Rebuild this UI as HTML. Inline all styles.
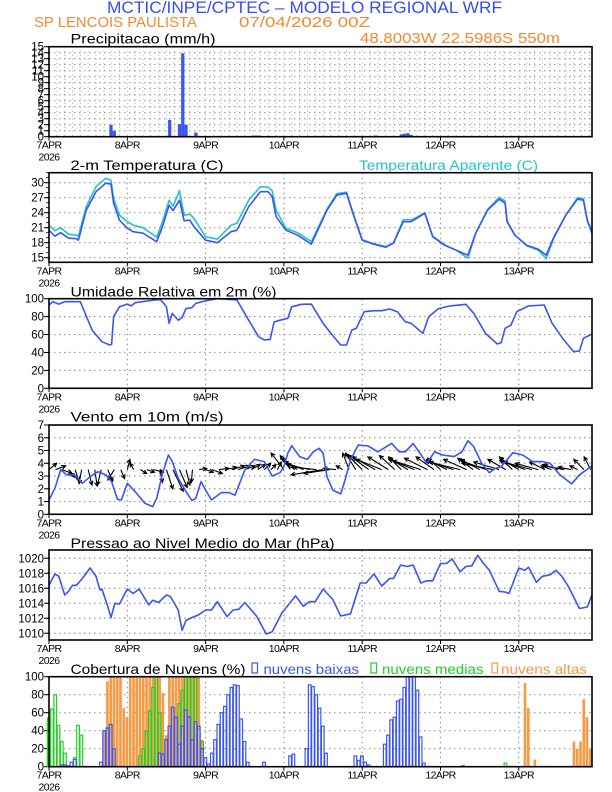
<!DOCTYPE html>
<html><head><meta charset="utf-8"><style>
html,body{margin:0;padding:0;background:#fff;}
svg{display:block;font-family:"Liberation Sans",sans-serif;}
</style></head><body>
<svg id="chart" width="612" height="792" viewBox="0 0 612 792" xmlns="http://www.w3.org/2000/svg">
<text x="107" y="13" font-size="16.5" fill="#3a4cf5" textLength="395" lengthAdjust="spacingAndGlyphs">MCTIC/INPE/CPTEC – MODELO REGIONAL WRF</text>
<text x="34" y="27" font-size="15" fill="#f08a30" textLength="163" lengthAdjust="spacingAndGlyphs">SP LENCOIS PAULISTA</text>
<text x="239" y="27" font-size="15" fill="#f08a30" textLength="131" lengthAdjust="spacingAndGlyphs">07/04/2026 00Z</text>
<text x="360" y="43" font-size="15" fill="#f08a30" textLength="200" lengthAdjust="spacingAndGlyphs">48.8003W 22.5986S 550m</text>
</svg>
<script>
// ---------- DATA ----------
const dayLabels = ["7APR","8APR","9APR","10APR","11APR","12APR","13APR"];
const precipHours = [10,19,20,37,40,41,42,45,63,64,65,68,100,108,109,110,111,136,137];
const precipValues = [0.1,2.0,1.0,2.8,2.1,13.9,2.0,0.7,0.2,0.2,0.1,0.1,0.2,0.4,0.5,0.6,0.3,0.1,0.1];
const tempHours = [0,1.8,3.6,6,8.4,9,11.4,14.4,17.4,19,19.8,21.6,24,25.8,28.8,33,34.8,36.8,38,40,41.4,43.2,44.4,48,51.6,55.8,57.6,61.2,64.8,67.2,68.4,69.6,72.6,76.2,80.4,85.2,88.2,91.2,93,94.2,96,99.6,103.2,105.6,108.6,111,112.8,115.2,117.6,121.2,124.8,128.4,130.8,134.4,138,139.8,140.4,142.8,146.4,150,152.4,154.8,158.4,162,163.8,165,166.4];
const tempValues = [20.5,19.3,20,18.9,18.8,18.5,24.5,28.2,29.9,29.7,25.9,22.5,20.9,20.2,19.9,18.2,21.2,25.5,24.4,26.5,22.4,22.5,21.2,18.5,18,20.2,20.5,25.2,28.2,28.2,27.2,23.2,20.5,19.5,17.7,24.5,27.5,27.9,24.2,21.9,18.5,17.7,17.1,17.9,22.2,22.2,22.9,23.9,19.2,17.5,16.5,15.5,19.9,24.5,26.7,25.9,22.2,19.5,17.5,16.7,15.5,19.2,23.5,26.7,26.5,22.5,20.2];
const apparentValues = [21.5,20.4,21,19.7,19.5,19.3,25.2,29.2,30.9,30.5,26.9,23.5,22.2,21.5,21,19.1,22.2,26.5,25.3,28.4,23.5,23.7,22.9,19.2,18.7,21.5,21.9,26.5,29.2,29.1,28.4,24.5,20.9,20,18.2,24.7,27.8,28.1,24.4,22.1,18.6,17.8,17.2,18,22.6,22.6,23.1,24,19.3,17.6,16.5,14.9,19.9,24.6,27.1,26.3,22.3,19.5,17.4,16.5,14.8,19,23.5,27,26.8,22.4,19.8];
const rhHours = [0,1.2,3,4.8,9.6,13.2,16.2,18.6,19.2,19.8,21.6,24,25.2,26.4,32.4,34.2,36,36.8,37.8,39.6,40.8,42,43.8,45,48,51.6,57.6,61.2,64.2,66,67.8,69,70.8,73.2,74.4,77.4,80.4,84,86.4,89.4,91.2,92.8,94.2,96.6,99.6,102,104.4,106.8,109.2,111,112.8,114.6,116.4,119.4,123,127.8,130.2,133.8,137.4,138.6,139.8,141.6,143.4,147,151.8,154.2,157.8,160.8,162.6,163.8,166.4];
const rhValues = [93,96.7,94,96.7,96.7,65,52,48.3,49,80,91,94,92,95.5,98.5,99,91,72.5,83.6,76,79,89,90,94.8,97.7,100,98.5,76,57.6,54,54.6,74,76,78,91,93.7,94,72.5,61.3,48.3,48.3,65,67,85.5,86.6,86.6,88.5,85.5,74.3,72.5,67,61.3,80,89,92,93.7,83.6,61.3,49.4,51,67,70.6,85.5,92,93,72.5,54,41,41.6,55.8,60.6];
const windHours = [0,1.8,3.6,5.4,7.8,10.2,12.6,15,17.4,19.2,21,22.2,24,26.4,29.4,31.8,33,34.8,36.6,37.8,39.6,42,43.8,45,46.6,48,49.8,52.8,55.2,57,60,63,66,68.4,70.8,72,73.2,74.4,76.8,79.2,81,82.8,84,85.2,87,89.4,90.6,92.4,94.8,97.8,100.8,105,107.4,109.2,111.6,113.4,115.8,118.2,120.6,124.2,126.6,128.4,130.2,132.6,135,136.8,138.6,142.2,145.2,148.2,151.2,153.6,156.6,160.2,162.6,166.4];
const windValues = [1.12,2.04,3.5,3.1,3.1,2.43,2.95,3.34,3.1,2.56,1.17,1.12,2.43,1.78,0.86,0.6,1.25,3.2,4.65,4.13,2.82,1.78,1.07,1.25,2.56,1.9,1.12,1.7,1.7,1.5,3.47,4.3,4.13,3.0,3.26,3.73,4.78,5.38,4.52,4.3,4.9,5.17,4.78,2.95,1.9,1.6,2.56,4.26,5.43,5.35,4.9,5.56,4.9,4.9,5.56,4.9,4.0,4.9,4.65,4.52,4.9,5.77,5.3,4.0,3.26,3.6,3.73,4.83,4.65,4.13,4.13,4.0,3.1,2.38,3.1,3.79];
const windU = [0.6,0.8,0.8,0.5,0.3,-0.2,0.3,0.2,-0.3,0.4,-0.5,0.3,0.2,-0.3,0.5,0.6,0.8,0.2,0.5,0.8,0.6,0.3,-0.1,0.6,0.6,0.8,0.8,0.9,1.0,0.9,0.8,0.7,0.6,0.5,0.4,0.3,-1.0,-0.8,-1.2,-1.5,-1.8,-2.0,-2.5,-2.0,-1.0,-0.5,-0.5,-0.8,-1.2,-1.5,-1.8,-2.0,-1.6,-1.2,-1.0,-1.5,-2.0,-2.2,-1.8,-1.4,-1.0,-1.6,-2.2,-2.4,-1.8,-1.2,-1.5,-2.0,-2.4,-2.0,-1.4,-1.0,-1.5,-2.0,-2.2,-1.8,-1.2,-0.8,-1.2,-1.6,-1.0,-0.6,-0.8,-0.5];
const windV = [0.5,0.3,-0.3,-0.6,-0.9,-1.1,-1.2,-1.3,-1.2,-0.9,-0.8,-0.7,0.8,0.5,-0.3,-0.2,-0.2,-1.0,-1.5,-1.7,-1.4,-1.2,-1.0,0.1,-0.2,-0.3,0.1,0.2,0.3,0.3,0.3,0.4,0.4,0.5,0.4,0.6,1.3,1.1,0.9,0.6,0.4,0.2,-0.4,-0.3,0.1,0.3,1.3,1.3,1.2,1.1,1.0,0.8,1.0,1.1,1.0,0.9,0.8,0.7,0.9,1.0,0.9,0.8,0.7,0.6,0.8,0.9,0.8,0.7,0.5,0.6,0.8,1.0,0.9,0.7,0.6,0.5,0.6,0.3,0.4,0.3,0.2,0.3,0.8,1.0];
const presHours = [0,1.8,3,4.8,6,7.2,8.4,10.2,12.6,14.4,15.6,16.2,18,19,20.2,21.6,24,25.8,27.6,30.6,31.8,33.6,36,37.2,39.6,40.8,42,43.8,45.6,48,49.8,51.6,54.6,56.4,58.2,60,63.6,66.6,68.4,71.4,75.6,78,79.8,81.6,84,87,89.4,92.4,95.4,97.2,99.6,102,104.4,105.6,107.8,109.8,111.6,114,115.8,117.6,120,121.8,123.6,126,127.8,129.6,131.4,133.2,135,138,139.8,141,144,145.8,147,149.4,151.2,153.6,155.4,157.2,159,162.6,165,166.4];
const presValues = [1016.4,1017.9,1017.6,1015.1,1015.6,1016.4,1016.4,1017.3,1018.7,1017.6,1015.8,1015.9,1013.6,1012.1,1014,1013.9,1015.9,1015.3,1015.9,1013.8,1014.4,1014.1,1015.1,1014.9,1013.1,1010.4,1011.7,1012.1,1012.4,1013.1,1013.1,1014.2,1012.2,1013.1,1013.2,1014.1,1012.3,1009.9,1010.2,1012.7,1015,1013.6,1014.2,1014.2,1015.9,1014.5,1012.3,1012.6,1016.7,1016.7,1017.9,1016.3,1017.3,1017.3,1019.1,1018.9,1019.1,1016.7,1017,1017,1019.3,1019.3,1019.9,1018.2,1018.9,1019,1020.4,1019.3,1018.4,1015.6,1015.5,1015.3,1018.7,1018.4,1018.8,1016.8,1017.6,1017.8,1018.4,1017.6,1016.4,1013.3,1013.5,1015.1];
const lowHours = [4,5,6,7,8,16,17,18,19,20,34,35,36,37,38,39,40,41,42,43,44,45,46,47,48,49,50,51,52,53,54,55,56,57,58,59,60,61,66,74,75,79,80,81,82,83,84,85,94,95,96,97,98,103,104,105,106,107,108,109,110,111,112,113,114,115,127];
const lowValues = [2,2,1,5,8,5,40,43,47,20,15,14,30,45,66,55,25,45,63,55,30,50,45,20,10,3,15,30,47,60,67,80,88,91,90,53,28,5,5,12,14,20,91,89,80,65,45,15,12,7,12,5,2,25,35,52,55,73,75,88,100,100,100,85,33,4,1];
const midHours = [0,1,2,3,4,5,8,9,10,28,29,30,31,32,33,34,40,41,42,43,44,45,46,47,140];
const midValues = [54,64,80,46,28,15,10,46,35,12,20,40,62,88,100,60,70,85,100,100,100,100,42,28,4];
const highHours = [17,18,19,20,21,22,23,24,25,26,27,28,29,30,31,32,33,34,35,36,37,38,39,40,41,42,43,44,45,46,47,146,147,149,152,161,162,163,164,165,166];
const highValues = [40,95,100,100,100,100,65,55,100,100,100,100,100,100,100,100,100,100,82,35,100,100,100,100,100,100,100,100,100,100,30,93,65,8,1,28,20,28,75,55,20];

// ---------- LAYOUT ----------
const NS = "http://www.w3.org/2000/svg";
const svg = document.getElementById("chart");
const X0 = 49, X1 = 592, HMAX = 166.4;
const DAYPX = 78.3;
function xs(h){ return X0 + h * DAYPX / 24; }
function mk(tag, attrs, parent){
  const e = document.createElementNS(NS, tag);
  for (const k in attrs) e.setAttribute(k, attrs[k]);
  (parent || svg).appendChild(e);
  return e;
}
const BLUE = "#3a55f5", CYAN = "#22c4c4", GREEN = "#22d022", ORANGE = "#f59a45";

function panel(name, top, bot, vmin, vmax, tickStart, tickEnd, tickStep, minorStep, denseGrid){
  const g = mk("g", {});
  
  
  const ys = v => bot - (v - vmin) / (vmax - vmin) * (bot - top);
  if (denseGrid){
    for (let i = 1; i < 70; i++){
      const gx = X0 + i * DAYPX / 10;
      if (gx >= X1) break;
      const l = mk("line", {x1:gx, x2:gx, y1:top, y2:bot, stroke:"#aaa", "stroke-width":1, "stroke-dasharray":"1,3"}, g);
      
      
    }
  } else {
    for (let d = 1; d < 7; d++){
      const gx = X0 + d * DAYPX;
      const l = mk("line", {x1:gx, x2:gx, y1:top, y2:bot, stroke:"#999", "stroke-width":1.2, "stroke-dasharray":"1.5,3.5"}, g);
      
      
    }
  }
  for (let v = tickStart; v <= tickEnd + 1e-9; v += tickStep){
    const y = ys(v);
    if (y < bot - 1 && y > top + 1){
      const l = mk("line", {x1:X0, x2:X1, y1:y, y2:y, stroke:"#999", "stroke-width":1.2, "stroke-dasharray":"1.5,3.5"}, g);
      
      
    }
    const t = mk("line", {x1:X0-5, x2:X0, y1:y, y2:y, stroke:"#000", "stroke-width":1}, g);
    
    
    const lb = mk("text", {x:X0-5, y:y+4, "font-size":11.5, "text-anchor":"end", fill:"#000"}, g);
    
    
    lb.textContent = String(Math.round(v));
  }
  for (let v = tickStart; v <= vmax; v += minorStep){
    const y = ys(v);
    if (y < top) break;
    const t = mk("line", {x1:X0-3, x2:X0, y1:y, y2:y, stroke:"#000", "stroke-width":0.8}, g);
    
    
  }
  dayLabels.forEach((lab, d) => {
    const gx = X0 + d * DAYPX;
    const t = mk("line", {x1:gx, x2:gx, y1:bot, y2:bot+4, stroke:"#000", "stroke-width":1}, g);
    
    
    const lb = mk("text", {x:gx, y:bot+12, "font-size":10.5, "text-anchor":"middle", fill:"#000", "letter-spacing":"-0.6"}, g);
    
    
    lb.textContent = lab;
  });
  const yr = mk("text", {x:X0, y:bot+24, "font-size":10.5, "text-anchor":"middle", fill:"#000", "letter-spacing":"-0.6"}, g);
  
  
  yr.textContent = "2026";
  const layer = mk("g", {}, g);
  
  
  return {g, layer, ys, top, bot, frame(){
    const f = mk("rect", {x:X0, y:top, width:X1-X0, height:bot-top, fill:"none", stroke:"#000", "stroke-width":1.6}, g);
    
    
  }};
}
function title(txt, x, y, len, color, name){
  const t = mk("text", {x:x, y:y, "font-size":14, fill:color||"#000", textLength:len, lengthAdjust:"spacingAndGlyphs"});
  
  
  t.textContent = txt;
}
function line(p, hours, vals, color, name){
  const pts = hours.map((h,i) => xs(h).toFixed(1) + "," + p.ys(vals[i]).toFixed(1)).join(" ");
  const l = mk("polyline", {points:pts, fill:"none", stroke:color, "stroke-width":1.6, "stroke-linejoin":"round"}, p.layer);
  
  
}
function bars(p, hours, vals, color, filled, name){
  const w = DAYPX / 24;
  hours.forEach((h, i) => {
    const x = xs(h) - w/2, y = p.ys(vals[i]);
    const r = mk("rect", {x:x.toFixed(2), y:y.toFixed(2), width:(w-0.6).toFixed(2), height:Math.max(0.5, p.bot - y).toFixed(2),
      fill: filled ? color : "rgba(255,255,255,0.15)", stroke: filled ? "none" : color, "stroke-width":1.2}, p.layer);
    
    
  });
}

title("Precipitacao (mm/h)", 70.5, 43.5, 145, "#000", "precip-title");
const pP = panel("precip", 46.7, 136.7, 0, 15, 0, 15, 1, 1, true);
{
  const w = DAYPX / 24;
  precipHours.forEach((h, i) => {
    const y = pP.ys(precipValues[i]);
    const r = mk("rect", {x:(xs(h)-w/2).toFixed(2), y:y.toFixed(2), width:w.toFixed(2), height:(pP.bot-y).toFixed(2), fill:BLUE}, pP.layer);
    
    
  });
}
pP.frame();

title("2-m Temperatura (C)", 70.5, 170, 153, "#000", "temp-title");
title("Temperatura Aparente (C)", 359, 170, 179, CYAN, "apparent-temp-title");
const pT = panel("temperature", 172.7, 262.3, 14.08, 32, 15, 30, 3, 1, false);
line(pT, tempHours, apparentValues, CYAN, "apparent-temp-line");
line(pT, tempHours, tempValues, BLUE, "temp-line");
pT.frame();

title("Umidade Relativa em 2m (%)", 70.5, 296.5, 206, "#000", "rh-title");
const pR = panel("humidity", 298.7, 388.3, 0, 100, 0, 100, 20, 20, false);
line(pR, rhHours, rhValues, BLUE, "rh-line");
pR.frame();

title("Vento em 10m (m/s)", 70.5, 421.5, 153, "#000", "wind-title");
const pW = panel("wind", 425, 514.3, 0, 7, 0, 7, 1, 1, false);
{
  const unit = (pW.bot - pW.top) / 7;
  const by = pW.ys(3.5);
  windU.forEach((u, i) => {
    const bx = xs(i * 2);
    const ex = bx + u * unit, ey = by - windV[i] * unit;
    const len = Math.hypot(ex-bx, ey-by) || 1;
    const ux = (ex-bx)/len, uy = (ey-by)/len;
    const hl = Math.min(4, len*0.5);
    const a1x = ex - hl*ux + hl*0.5*uy, a1y = ey - hl*uy - hl*0.5*ux;
    const a2x = ex - hl*ux - hl*0.5*uy, a2y = ey - hl*uy + hl*0.5*ux;
    const pth = mk("path", {d:`M${bx.toFixed(1)},${by.toFixed(1)}L${ex.toFixed(1)},${ey.toFixed(1)}M${a1x.toFixed(1)},${a1y.toFixed(1)}L${ex.toFixed(1)},${ey.toFixed(1)}L${a2x.toFixed(1)},${a2y.toFixed(1)}`, stroke:"#000", "stroke-width":1.1, fill:"none"}, pW.layer);
    
    
  });
}
line(pW, windHours, windValues, BLUE, "wind-speed-line");
pW.frame();

title("Pressao ao Nivel Medio do Mar (hPa)", 70.5, 548, 264, "#000", "pressure-title");
const pS = panel("pressure", 550, 640, 1009.1, 1021.1, 1010, 1020, 2, 2, false);
line(pS, presHours, presValues, BLUE, "pressure-line");
pS.frame();

title("Cobertura de Nuvens (%)", 70.5, 674, 175, "#000", "cloud-title");
const legendItems = [["nuvens baixas", BLUE, 252, 263.5, 95.5], ["nuvens medias", GREEN, 371, 382, 101.5], ["nuvens altas", ORANGE, 492, 501, 86]];
legendItems.forEach(it => {
  const r = mk("rect", {x:it[2], y:663, width:5.5, height:10, fill:"none", stroke:it[1], "stroke-width":1.2});
  
  
  const t = mk("text", {x:it[3], y:674, "font-size":14, fill:it[1], textLength:it[4], lengthAdjust:"spacingAndGlyphs"});
  
  
  t.textContent = it[0];
});
const pC = panel("cloud", 676.7, 766.7, 0, 100, 0, 100, 20, 20, false);
bars(pC, highHours, highValues, ORANGE, true, "cloud-high-bar");
bars(pC, midHours, midValues, GREEN, false, "cloud-mid-bar");
bars(pC, lowHours, lowValues, BLUE, false, "cloud-low-bar");
pC.frame();
</script>
</body></html>
